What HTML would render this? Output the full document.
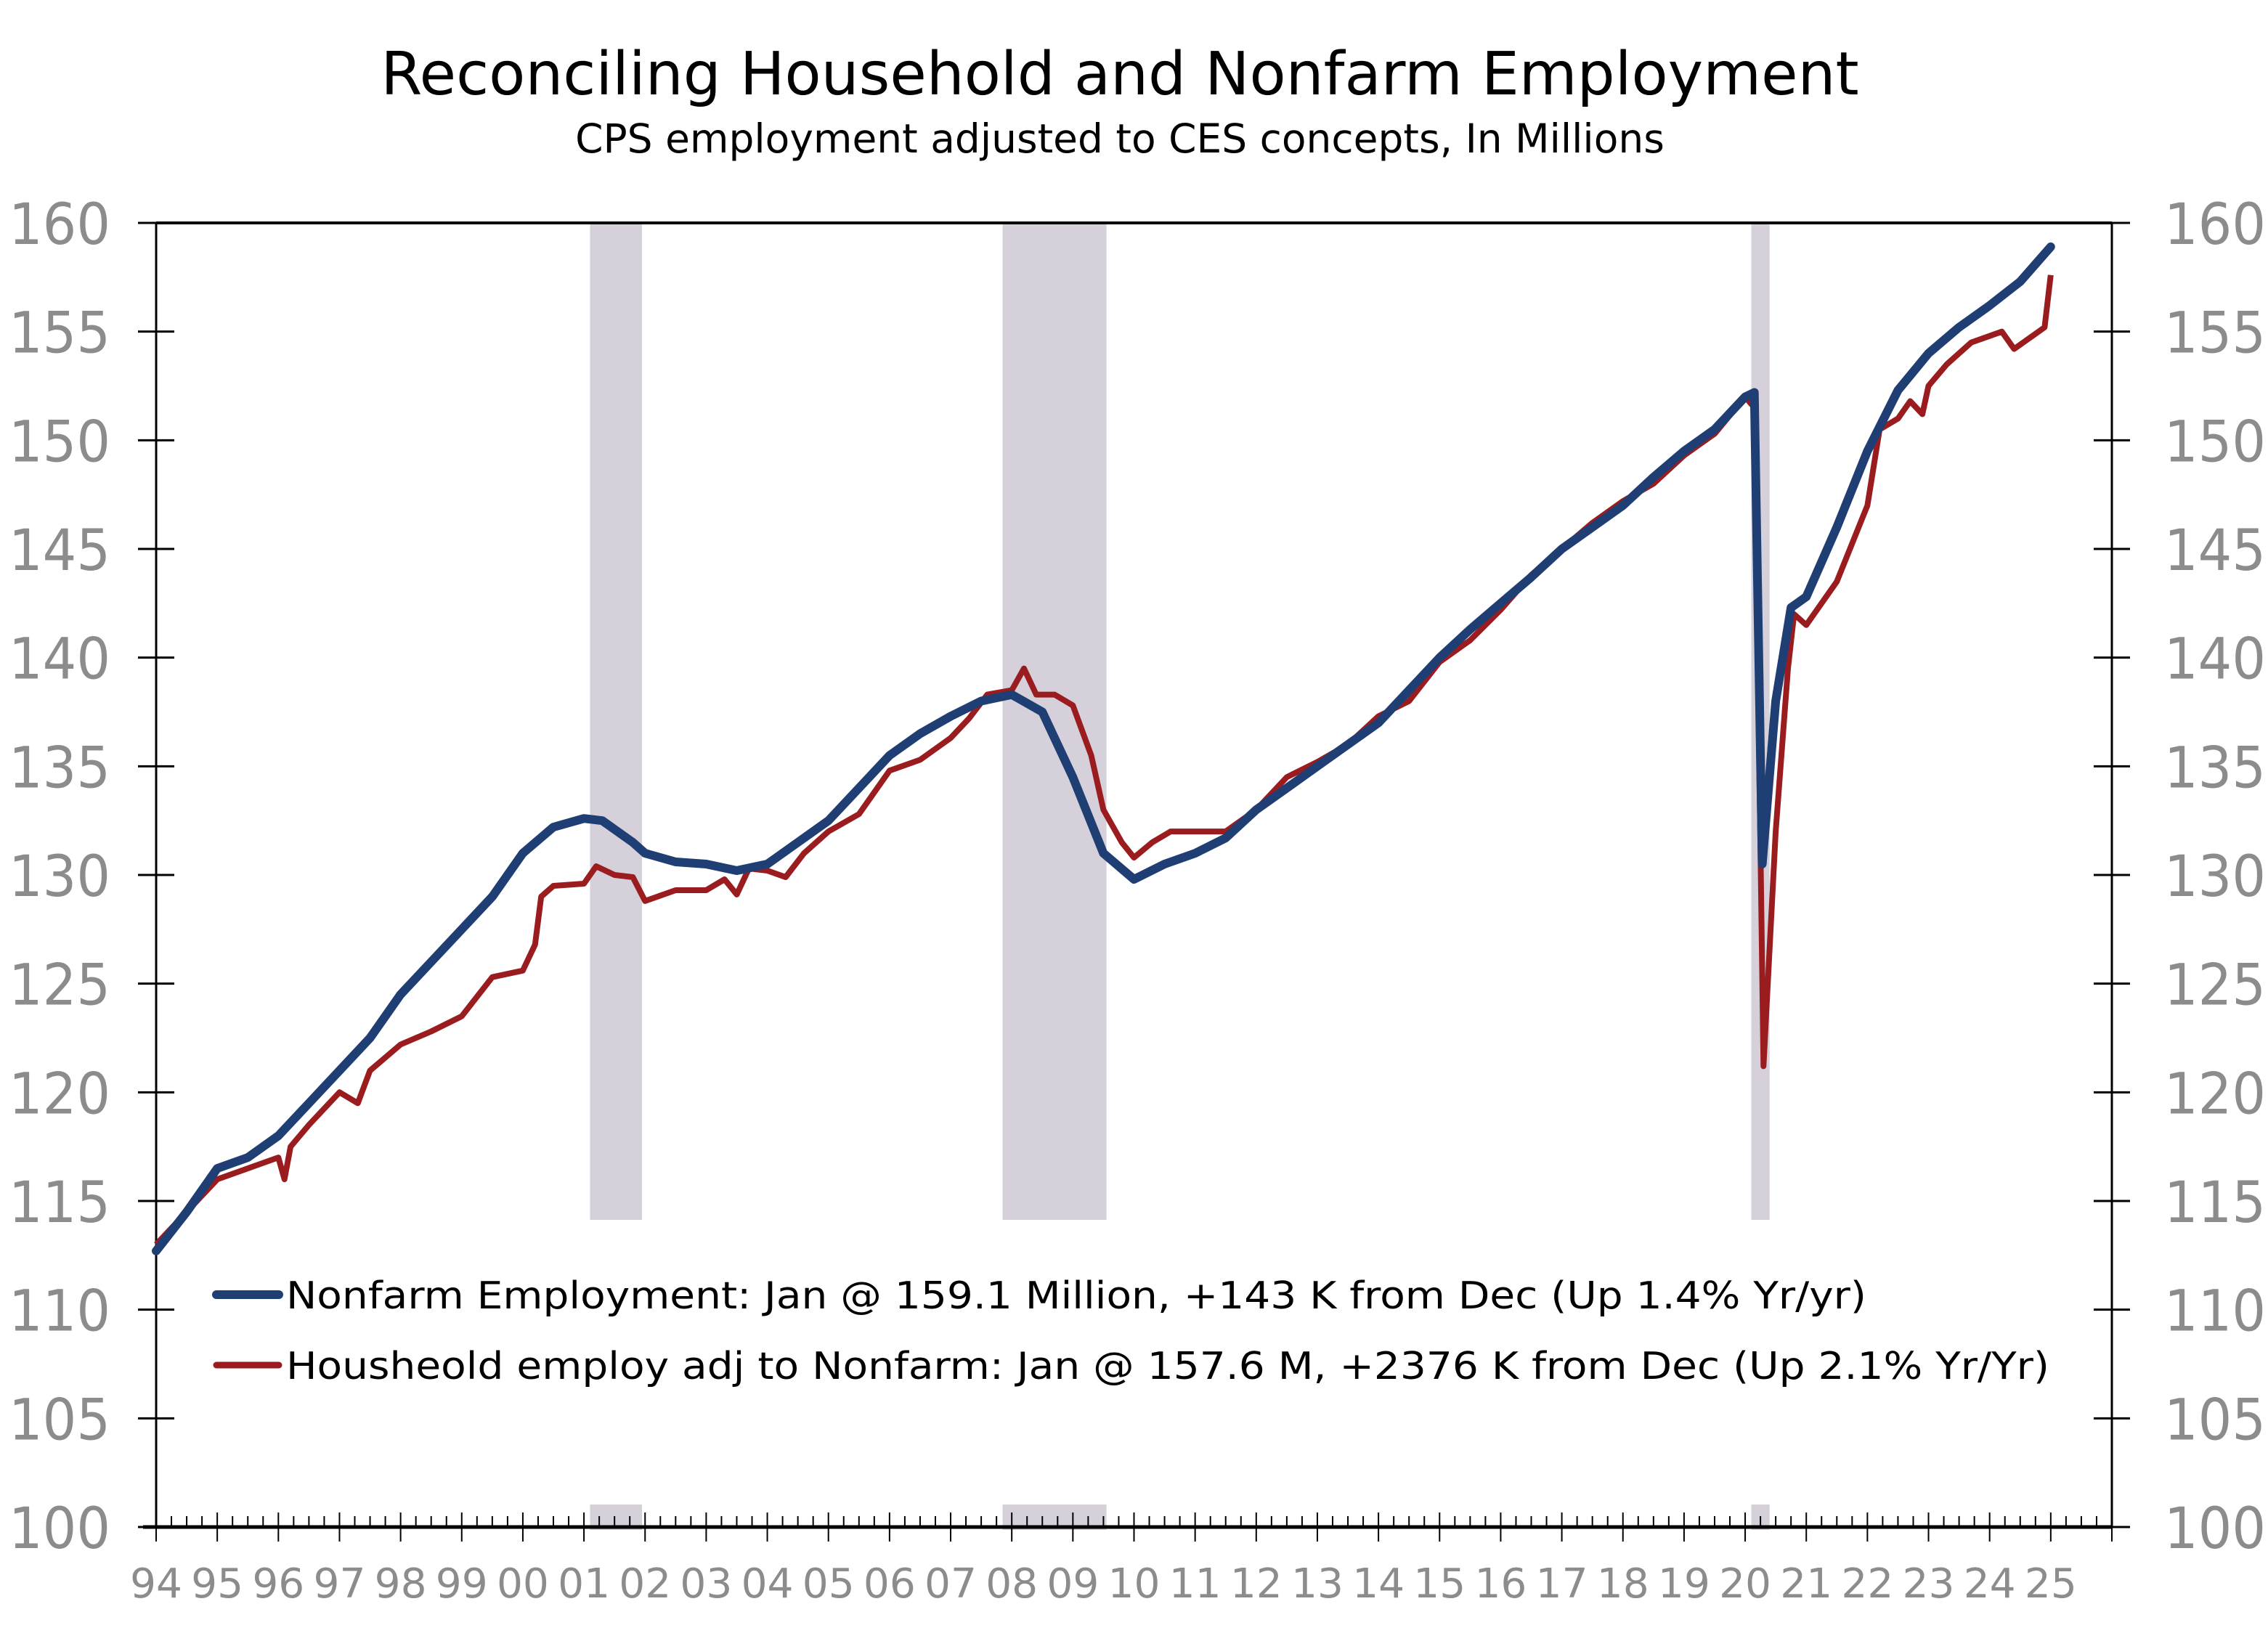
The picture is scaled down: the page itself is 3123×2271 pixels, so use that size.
<!DOCTYPE html>
<html><head><meta charset="utf-8"><style>
html,body{margin:0;padding:0;background:#fff}
svg{display:block}
text{font-family:"DejaVu Sans","Liberation Sans",sans-serif}
</style></head><body>
<svg id="chart" width="3123" height="2271" viewBox="0 0 3123 2271" xmlns="http://www.w3.org/2000/svg">
<text x="1542" y="130" font-size="82" text-anchor="middle" fill="#000">Reconciling Household and Nonfarm Employment</text>
<text x="1542" y="210" font-size="55" text-anchor="middle" fill="#000">CPS employment adjusted to CES concepts, In Millions</text>
<g id="rec"></g>
<g id="axes"></g>
<g id="lines"></g>
<g>
<line x1="298" y1="1783" x2="384" y2="1783" stroke="#1f3e74" stroke-width="12" stroke-linecap="round"/>
<text x="394" y="1802" font-size="52" fill="#000" textLength="2176" lengthAdjust="spacingAndGlyphs">Nonfarm Employment: Jan @ 159.1 Million, +143 K from Dec (Up 1.4% Yr/yr)</text>
<line x1="298" y1="1880" x2="384" y2="1880" stroke="#9b1c1f" stroke-width="9" stroke-linecap="round"/>
<text x="394" y="1899" font-size="52" fill="#000" textLength="2428" lengthAdjust="spacingAndGlyphs">Housheold employ adj to Nonfarm: Jan @ 157.6 M, +2376 K from Dec (Up 2.1% Yr/Yr)</text>
</g>
</svg>
<script>
const yTicks=[100,105,110,115,120,125,130,135,140,145,150,155,160];
const yearLabels=["94","95","96","97","98","99","00","01","02","03","04","05","06","07","08","09","10","11","12","13","14","15","16","17","18","19","20","21","22","23","24","25"];
const recessions=[[2001.1,2001.95],[2007.85,2009.55],[2020.1,2020.4]];
const nfDates=[1994.0,1994.5,1995.0,1995.5,1996.0,1996.5,1997.0,1997.5,1998.0,1998.5,1999.0,1999.5,2000.0,2000.5,2001.0,2001.3,2001.8,2002.0,2002.5,2003.0,2003.5,2004.0,2004.5,2005.0,2005.5,2006.0,2006.5,2007.0,2007.5,2008.0,2008.5,2009.0,2009.5,2010.0,2010.5,2011.0,2011.5,2012.0,2012.5,2013.0,2013.5,2014.0,2014.5,2015.0,2015.5,2016.0,2016.5,2017.0,2017.5,2018.0,2018.5,2019.0,2019.5,2020.0,2020.15,2020.28,2020.5,2020.75,2021.0,2021.5,2022.0,2022.5,2023.0,2023.5,2024.0,2024.5,2025.0];
const nfValues=[112.7,114.5,116.5,117.0,118.0,119.5,121.0,122.5,124.5,126,127.5,129,131,132.2,132.6,132.5,131.5,131.0,130.6,130.5,130.2,130.5,131.5,132.5,134,135.5,136.5,137.3,138.0,138.3,137.5,134.5,131,129.8,130.5,131.0,131.7,133,134,135,136,137.0,138.5,140,141.3,142.5,143.7,145,146,147,148.3,149.5,150.5,152,152.2,130.5,138,142.3,142.8,146,149.5,152.3,154.0,155.2,156.2,157.3,158.9];
const hhDates=[1994.0,1994.5,1995.0,1995.5,1996.0,1996.1,1996.2,1996.5,1997.0,1997.3,1997.5,1998.0,1998.5,1999.0,1999.5,2000.0,2000.2,2000.3,2000.5,2001.0,2001.2,2001.5,2001.8,2002.0,2002.5,2003.0,2003.3,2003.5,2003.7,2004.0,2004.3,2004.6,2005.0,2005.5,2006.0,2006.5,2007.0,2007.3,2007.6,2008.0,2008.2,2008.4,2008.7,2009.0,2009.3,2009.5,2009.8,2010.0,2010.3,2010.6,2011.0,2011.5,2012.0,2012.5,2013.0,2013.5,2014.0,2014.5,2015.0,2015.5,2016.0,2016.5,2017.0,2017.5,2018.0,2018.5,2019.0,2019.5,2020.0,2020.15,2020.3,2020.5,2020.7,2020.8,2021.0,2021.5,2022.0,2022.2,2022.5,2022.7,2022.9,2023.0,2023.3,2023.7,2024.0,2024.2,2024.4,2024.7,2024.9,2025.0];
const hhValues=[113,114.5,116,116.5,117,116,117.5,118.5,120,119.5,121,122.2,122.8,123.5,125.3,125.6,126.8,129,129.5,129.6,130.4,130,129.9,128.8,129.3,129.3,129.8,129.1,130.3,130.2,129.9,131,132,132.8,134.8,135.3,136.3,137.2,138.3,138.5,139.5,138.3,138.3,137.8,135.5,133.0,131.5,130.8,131.5,132.0,132.0,132.0,133.0,134.5,135.2,136.0,137.3,138.0,139.8,140.8,142.2,143.8,145.0,146.2,147.2,148.0,149.3,150.3,152.0,151.5,121.2,132,139.5,142,141.5,143.5,147,150.5,151.0,151.8,151.2,152.5,153.5,154.5,154.8,155.0,154.2,154.8,155.2,157.6];

const NS="http://www.w3.org/2000/svg";
const L=215,R=2908,T=307,B=2103,X0=1994,X1=2026,YMIN=100,YMAX=160;
const xs=d=>L+(d-X0)/(X1-X0)*(R-L);
const ys=v=>B-(v-YMIN)/(YMAX-YMIN)*(B-T);
function mk(tag,attrs,parent){const e=document.createElementNS(NS,tag);for(const k in attrs)e.setAttribute(k,attrs[k]);parent.appendChild(e);return e;}
const rec=document.getElementById('rec'),axes=document.getElementById('axes'),lines=document.getElementById('lines');
recessions.forEach(r=>{
  const a=mk('rect',{x:xs(r[0]),y:T,width:xs(r[1])-xs(r[0]),height:1680-T,fill:'#d5d0d9'},rec);
  
  
  const b=mk('rect',{x:xs(r[0]),y:2072,width:xs(r[1])-xs(r[0]),height:B-2072+4,fill:'#d5d0d9'},rec);
  
  
});
mk('line',{x1:L,y1:T,x2:R,y2:T,stroke:'#000','stroke-width':4},axes);
mk('line',{x1:L,y1:T,x2:L,y2:B,stroke:'#000','stroke-width':3},axes);
mk('line',{x1:R,y1:T,x2:R,y2:B,stroke:'#000','stroke-width':3},axes);
mk('line',{x1:L-18,y1:B,x2:R,y2:B,stroke:'#000','stroke-width':5},axes);
yTicks.forEach(v=>{
  const y=ys(v);
  mk('line',{x1:L-25,y1:y,x2:L+25,y2:y,stroke:'#000','stroke-width':3},axes);
  mk('line',{x1:R-25,y1:y,x2:R+25,y2:y,stroke:'#000','stroke-width':3},axes);
  const t1=mk('text',{x:12,y:y+29,'font-size':78,fill:'#8c8c8c',textLength:140,lengthAdjust:'spacingAndGlyphs'},axes);
  t1.textContent=v;
  
  
  const t2=mk('text',{x:2980,y:y+29,'font-size':78,fill:'#8c8c8c',textLength:140,lengthAdjust:'spacingAndGlyphs'},axes);
  t2.textContent=v;
  
  
});
for(let q=0;q<=(X1-X0)*4;q++){
  const x=xs(X0+q/4);
  if(q%4===0) mk('line',{x1:x,y1:B-20,x2:x,y2:B+20,stroke:'#000','stroke-width':2},axes);
  else mk('line',{x1:x,y1:B-15,x2:x,y2:B,stroke:'#000','stroke-width':2},axes);
}
yearLabels.forEach((lab,i)=>{
  const t=mk('text',{x:xs(X0+i),y:2200,'font-size':56,'text-anchor':'middle',fill:'#8c8c8c',textLength:72,lengthAdjust:'spacingAndGlyphs'},axes);
  t.textContent=lab;
  
  
});
function path(d,v){return d.map((x,i)=>(i?'L':'M')+xs(x).toFixed(1)+','+ys(v[i]).toFixed(1)).join('');}
const hh=mk('path',{d:path(hhDates,hhValues),fill:'none',stroke:'#9b1c1f','stroke-width':8,'stroke-linejoin':'round'},lines);


const nf=mk('path',{d:path(nfDates,nfValues),fill:'none',stroke:'#1f3e74','stroke-width':12,'stroke-linejoin':'round','stroke-linecap':'round'},lines);


</script>
</body></html>
